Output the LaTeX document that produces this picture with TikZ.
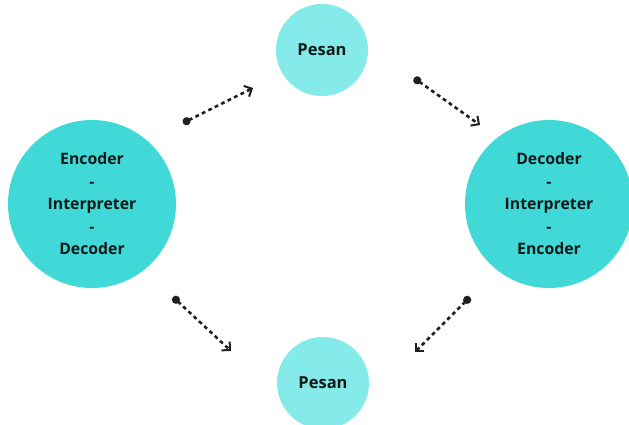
\documentclass[tikz,border=0pt]{standalone}
\usepackage{fontspec}
\setmainfont{Open Sans}
\usetikzlibrary{arrows.meta}
\definecolor{bigteal}{HTML}{40D9D8}
\definecolor{smallteal}{HTML}{84EAEA}
\definecolor{inkdark}{HTML}{0C1A1A}
\begin{document}
\begin{tikzpicture}[x=1pt,y=-1pt,
  bigcircle/.style={circle,fill=bigteal,minimum size=168pt,inner sep=0pt,
    font=\bfseries\fontsize{15.8}{22.5}\selectfont,text=inkdark,align=center},
  smallcircle/.style={circle,fill=smallteal,minimum size=92pt,inner sep=0pt,
    font=\bfseries\fontsize{16.5}{18}\selectfont,text=inkdark},
  flow/.style={draw=black!88,line width=2.6pt,dash pattern=on 3.8pt off 3.4pt,
    {Circle[length=8pt,width=8pt]}-{Straight Barb[length=6pt,width=12pt,line width=2pt]}}]
  \useasboundingbox (0,0) rectangle (629,425);
  \begin{scope}
    \clip (0,0) rectangle (629,425);
    \node[bigcircle] (left) at (92,204) {Encoder\\-\\Interpreter\\-\\Decoder};
    \node[bigcircle] (right) at (549,204) {Decoder\\-\\Interpreter\\-\\Encoder};
    \node[smallcircle] (top) at (322,50) {Pesan};
    \node[smallcircle] (bottom) at (323,383) {Pesan};
  \end{scope}
  % message flow: sender -> message -> receiver, and back
  \coordinate (a1) at (183,123);
  \coordinate (a2) at (253,88);
  \coordinate (b1) at (414,78);
  \coordinate (b2) at (480,125);
  \coordinate (c1) at (470,297);
  \coordinate (c2) at (415,352);
  \coordinate (d1) at (173,297);
  \coordinate (d2) at (231,351);
  \draw[flow] (a1) -- (a2);
  \draw[flow] (b1) -- (b2);
  \draw[flow] (c1) -- (c2);
  \draw[flow] (d1) -- (d2);
\end{tikzpicture}
\end{document}
